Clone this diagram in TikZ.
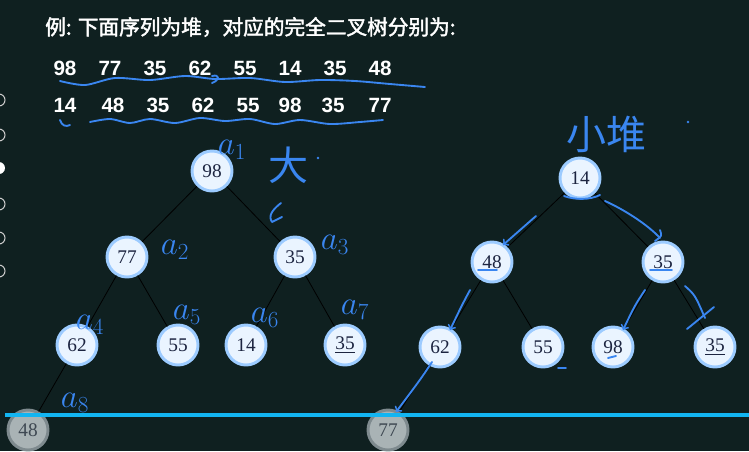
\documentclass[tikz,border=0pt]{standalone}
\usepackage{fontspec}
\setmainfont{Liberation Serif}
\setsansfont{Liberation Sans}
\newfontfamily\cjkfont{Noto Sans CJK SC}
\newfontfamily\cjkbold{Noto Sans CJK SC}[FakeBold=2]
\usepackage{xcolor}
\definecolor{boarddark}{HTML}{0F2020}
\definecolor{nodefill}{HTML}{EAF4FF}
\definecolor{nodeglow}{HTML}{9CCBFF}
\definecolor{nodetext}{HTML}{1C2440}
\definecolor{dimfill}{HTML}{A9B3B5}
\definecolor{dimglow}{HTML}{7E8A8E}
\definecolor{dimtext}{HTML}{3E4852}
\definecolor{inkblue}{HTML}{3A86F0}
\definecolor{barcyan}{HTML}{12B5F2}

\begin{document}
\begin{tikzpicture}[x=0.75pt, y=-0.75pt,
    heapnode/.style={circle, fill=nodefill, draw=nodeglow, line width=2.2pt,
                     minimum size=30pt, inner sep=0pt, text=nodetext,
                     font=\fontsize{14.5}{14.5}\selectfont},
    dimnode/.style={heapnode, fill=dimfill, draw=dimglow, text=dimtext},
    treeedge/.style={black, line width=0.6pt},
    seqnum/.style={text=white, inner sep=0pt,
                   font=\sffamily\bfseries\fontsize{15.5}{15.5}\selectfont},
    ink/.style={inkblue, line width=1.4pt, line cap=round, line join=round},
    inktext/.style={text=inkblue, inner sep=0pt, font=\fontsize{24}{24}\selectfont},
    inkcjk/.style={text=inkblue, inner sep=0pt, font=\cjkfont\fontsize{30}{30}\selectfont}]

%% ==== 底色與畫面範圍 ================================================
\fill[boarddark] (0,0) rectangle (749,451);
\useasboundingbox (0,0) rectangle (749,451);

%% 左邊播放器的小圓點
\foreach \y in {100,135,204,238,271}
  \draw[white!80!black, line width=0.8pt] (-1,\y) circle (6);
\fill[white] (-1,168) circle (6);

%% ==== 標題與兩個序列 ================================================
\node[anchor=west, text=white, inner sep=0pt,
      font=\cjkbold\fontsize{15.5}{15.5}\selectfont] (title) at (45,27)
  {例: 下面序列为堆，对应的完全二叉树分别为:};

\foreach \v [count=\i] in {98,77,35,62,55,14,35,48}
  \node[seqnum] (big-\i) at ({65+45*(\i-1)},68) {\v};

\foreach \x/\v [count=\i] in {65/14,113/48,158/35,203/62,248/55,290/98,333/35,380/77}
  \node[seqnum] (small-\i) at (\x,105) {\v};

%% ==== 左邊: 大堆 ====================================================
\node[heapnode] (L1) at (212,171) {98};
\node[heapnode] (L2) at (127,257) {77};
\node[heapnode] (L3) at (295,257) {35};
\node[heapnode] (L4) at (77,345)  {62};
\node[heapnode] (L5) at (178,345) {55};
\node[heapnode] (L6) at (246,345) {14};
\node[heapnode] (L7) at (345,345) {\underline{35}};
\node[dimnode]  (L8) at (28,430)  {48};

\draw[treeedge] (L1) -- (L2);
\draw[treeedge] (L1) -- (L3);
\draw[treeedge] (L2) -- (L4);
\draw[treeedge] (L2) -- (L5);
\draw[treeedge] (L3) -- (L6);
\draw[treeedge] (L3) -- (L7);
\draw[treeedge] (L4) -- (L8);

%% ==== 右邊: 小堆 ====================================================
\node[heapnode] (R1) at (580,178) {14};
\node[heapnode] (R2) at (492,262) {48};
\node[heapnode] (R3) at (663,262) {35};
\node[heapnode] (R4) at (440,347) {62};
\node[heapnode] (R5) at (543,347) {55};
\node[heapnode] (R6) at (613,347) {98};
\node[heapnode] (R7) at (715,347) {\underline{35}};
\node[dimnode]  (R8) at (388,430) {77};

\draw[treeedge] (R1) -- (R2);
\draw[treeedge] (R1) -- (R3);
\draw[treeedge] (R2) -- (R4);
\draw[treeedge] (R2) -- (R5);
\draw[treeedge] (R3) -- (R6);
\draw[treeedge] (R3) -- (R7);
\draw[treeedge] (R4) -- (R8);

%% ==== 藍色手寫 ======================================================
%% 序列下的波浪線
\draw[ink] plot[smooth] coordinates {(60,81) (85,85) (115,78) (150,80) (185,76)
  (215,79) (250,78) (285,82) (320,80) (355,81) (390,84) (425,87)};
\draw[ink] (212,76) .. controls (220,74) and (220,80) .. (212,83);
\draw[ink] (60,120) .. controls (62,126) and (66,127) .. (70,125);
\draw[ink] plot[smooth] coordinates {(90,122) (110,119) (130,123) (150,119)
  (175,123) (200,118) (225,121) (250,119) (275,124) (300,120) (330,124)
  (360,122) (383,120)};

%% 左樹的編號
\node[inktext] (a1) at (232,150) {$a_1$};
\node[inkcjk]  (da) at (288,165) {大};
\fill[inkblue] (318,158) circle (1.3);
\draw[ink] (281,203) .. controls (272,210) and (268,216) .. (272,222)
  .. controls (276,220) .. (282,217);
\node[inktext] (a2) at (175,250) {$a_2$};
\node[inktext] (a3) at (335,245) {$a_3$};
\node[inktext] (a4) at (90,325)  {$a_4$};
\node[inktext] (a5) at (187,315) {$a_5$};
\node[inktext] (a6) at (265,318) {$a_6$};
\node[inktext] (a7) at (355,310) {$a_7$};
\node[inktext] (a8) at (75,403)  {$a_8$};

%% 右樹的標題與箭頭
\node[inkcjk] (xd) at (606,134) {小堆};
\fill[inkblue] (688,122) circle (1.3);
\draw[ink] (564,196) .. controls (575,200) and (590,200) .. (600,195);
\draw[ink, ->] (536,216) -- (503,245);
\draw[ink] (605,201) .. controls (625,210) and (648,225) .. (660,238);
\draw[ink] (660,230) .. controls (662,236) .. (655,241);
\draw[ink, ->] (470,290) .. controls (462,305) .. (450,330);
\draw[ink, ->] (645,290) .. controls (635,305) .. (623,330);
\draw[ink] (685,286) .. controls (695,295) .. (705,318);
\draw[ink] (687,329) -- (714,307);
\draw[ink, ->] (432,362) .. controls (420,380) .. (396,412);
\draw[ink] (558,368) -- (566,368);
\draw[ink] (478,270) -- (497,270);
\draw[ink] (650,270) -- (672,270);
\draw[ink] (608,358) -- (616,356);

%% ==== 播放進度條 ====================================================
\draw[barcyan, line width=2.4pt] (5,415) -- (749,415);

\end{tikzpicture}
\end{document}
